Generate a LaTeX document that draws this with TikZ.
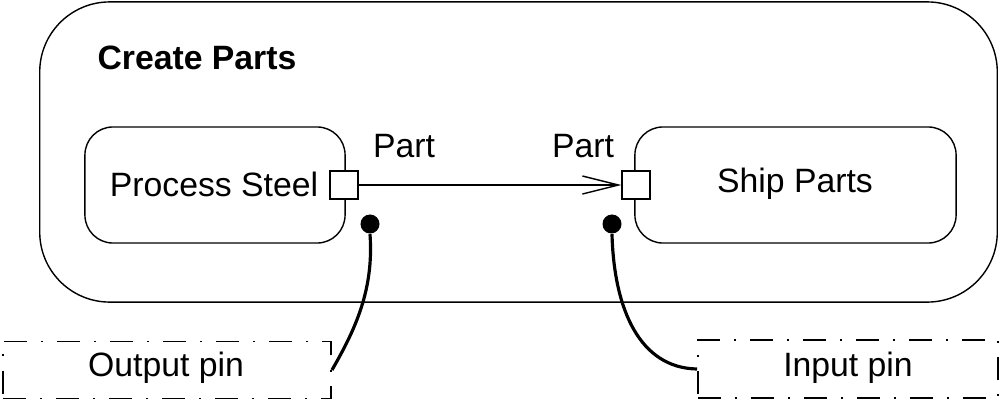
\documentclass[tikz,border=0pt]{standalone}
\usepackage{fontspec}
\setmainfont{Liberation Sans}
\usetikzlibrary{arrows.meta}
\begin{document}
\begin{tikzpicture}[x=0.01cm,y=-0.01cm,
 every node/.style={font=\fontsize{9.6}{11.5}\selectfont, inner sep=0pt},
 actionbox/.style={draw, line width=0.4pt, rounded corners=0.28cm},
 pinbox/.style={draw, fill=white, line width=0.4pt, minimum width=0.28cm, minimum height=0.28cm},
 notebox/.style={draw, line width=0.5pt, dash pattern=on 0.23cm off 0.14cm on 0.02cm off 0.14cm},
 anchorline/.style={line width=0.9pt},
 dotmark/.style={circle, fill=black, minimum size=0.19cm}]
\useasboundingbox (0,0) rectangle (1000,400);
% outer activity
\node[draw, line width=0.4pt, rounded corners=0.7cm, minimum width=9.57cm, minimum height=3.0cm] (outer) at (518.5,152) {};
\node[font=\fontsize{9.6}{11.5}\selectfont\bfseries] (title) at (197,58) {Create Parts};
% actions
\node[actionbox, minimum width=2.6cm, minimum height=1.16cm] (steel) at (215,185) {};
\node (steeltxt) at (214,184) {Process Steel};
\node[actionbox, minimum width=3.21cm, minimum height=1.16cm] (ship) at (795.5,185) {};
\node (shiptxt) at (795,184) {Ship Parts};
% pins
\node[pinbox] (opinsq) at (344,185) {};
\node[pinbox] (ipinsq) at (636,185) {};
\node (lpart) at (404,146) {Part};
\node (rpart) at (583,146) {Part};
\draw[line width=0.4pt, -{Straight Barb[length=0.36cm, width=0.18cm, line width=0.4pt]}] (opinsq.east) -- (ipinsq.west);
% notes
\node[notebox, minimum width=3.28cm, minimum height=0.57cm] (outnote) at (167,370) {};
\node (outtxt) at (166,368) {Output pin};
\node[notebox, minimum width=3.0cm, minimum height=0.58cm] (innote) at (848,369) {};
\node (intxt) at (848,368) {Input pin};
% anchor dots and lines
\node[dotmark] (ldot) at (370,224) {};
\node[dotmark] (rdot) at (612,224) {};
\draw[anchorline] (ldot.south) .. controls (374,290) and (355,330) .. (outnote.east);
\draw[anchorline] (rdot.south) .. controls (614,310) and (640,368) .. (innote.west);
\end{tikzpicture}
\end{document}
